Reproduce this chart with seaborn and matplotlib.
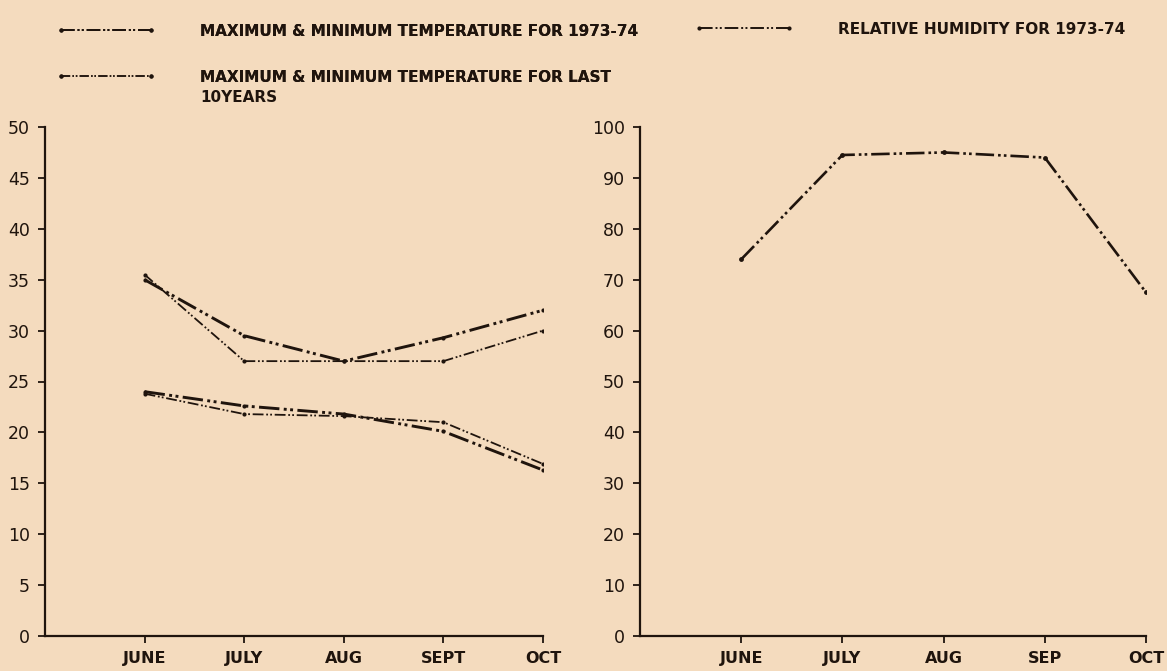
import numpy as np
import pandas as pd
import matplotlib
matplotlib.use("Agg")
import matplotlib.pyplot as plt
import seaborn as sns
from matplotlib.lines import Line2D

# ---- data ----
months_left = ["JUNE", "JULY", "AUG", "SEPT", "OCT"]
months_right = ["JUNE", "JULY", "AUG", "SEP", "OCT"]
max_7374 = [35.0, 29.5, 27.0, 29.3, 32.0]
min_7374 = [24.0, 22.6, 21.8, 20.1, 16.3]
max_10yr = [35.5, 27.0, 27.0, 27.0, 30.0]
min_10yr = [23.8, 21.8, 21.6, 21.0, 16.9]
humidity = [74.0, 94.5, 95.0, 94.0, 67.5]
temp_ticks = [0, 5, 10, 15, 20, 25, 30, 35, 40, 45, 50]
hum_ticks = [0, 10, 20, 30, 40, 50, 60, 70, 80, 90, 100]

BG = "#F4DBBE"
INK = "#1f140d"

sns.set_theme(style="white")
plt.rcParams["font.family"] = ["DejaVu Sans"]

pos = np.arange(1, 6)
rows = []
for name, vals in [("max_7374", max_7374), ("min_7374", min_7374),
                   ("max_10yr", max_10yr), ("min_10yr", min_10yr)]:
    for p, v in zip(pos, vals):
        rows.append({"pos": p, "val": v, "series": name})
df = pd.DataFrame(rows)
dfh = pd.DataFrame({"pos": pos, "val": humidity})

fig = plt.figure(figsize=(11.67, 6.71), dpi=100)
fig.patch.set_facecolor(BG)

axL = fig.add_axes([45 / 1167, 35 / 671, 498 / 1167, 509 / 671])
axR = fig.add_axes([640 / 1167, 35 / 671, 506 / 1167, 509 / 671])

bold_ls = (0, (7, 1.5, 1, 1.2, 1, 1.5))
thin_ls = (0, (6, 1.5, 1, 1.2, 1, 1.5))

styles = {
    "max_7374": dict(lw=2.1, ls=bold_ls),
    "min_7374": dict(lw=2.1, ls=bold_ls),
    "max_10yr": dict(lw=1.3, ls=thin_ls),
    "min_10yr": dict(lw=1.3, ls=thin_ls),
}
for name, st in styles.items():
    sub = df[df["series"] == name]
    sns.lineplot(data=sub, x="pos", y="val", ax=axL, color=INK,
                 linewidth=st["lw"], linestyle=st["ls"], marker="o",
                 markersize=3, markeredgewidth=0, legend=False)

sns.lineplot(data=dfh, x="pos", y="val", ax=axR, color=INK, linewidth=1.9,
             linestyle=bold_ls, marker="o", markersize=3.5,
             markeredgewidth=0, legend=False)

for ax, ticks, labels, ylim in [(axL, temp_ticks, months_left, 50),
                                (axR, hum_ticks, months_right, 100)]:
    ax.set_facecolor(BG)
    ax.set_xlim(0, 5)
    ax.set_ylim(0, ylim)
    ax.set_xticks(pos)
    ax.set_xticklabels(labels, fontsize=11.5, color=INK, fontweight="bold")
    ax.set_yticks(ticks)
    ax.set_yticklabels([str(t) for t in ticks], fontsize=12.5, color=INK)
    ax.set_xlabel("")
    ax.set_ylabel("")
    for s in ["top", "right"]:
        ax.spines[s].set_visible(False)
    for s in ["left", "bottom"]:
        ax.spines[s].set_color(INK)
        ax.spines[s].set_linewidth(1.6)
    ax.tick_params(axis="both", which="both", direction="out", length=5,
                   width=1.3, color=INK, left=True, bottom=True, pad=6)
    ax.grid(False)

# ---- legends ----
def handle(lw, ls):
    return Line2D([0, 1], [0, 0], color=INK, lw=lw, ls=ls, marker="o",
                  markersize=3, markeredgewidth=0)

leg_kw = dict(frameon=False, handlelength=6.5, numpoints=2, handletextpad=2.9,
              prop={"size": 11, "weight": "bold"}, labelcolor=INK,
              borderaxespad=0)
l1 = fig.legend([handle(1.4, bold_ls)],
                ["MAXIMUM & MINIMUM TEMPERATURE FOR 1973-74"],
                loc="center left", bbox_to_anchor=(50 / 1167, 1 - 31 / 671),
                **leg_kw)
l2 = fig.legend([handle(1.1, thin_ls)],
                ["MAXIMUM & MINIMUM TEMPERATURE FOR LAST"],
                loc="center left", bbox_to_anchor=(50 / 1167, 1 - 77 / 671),
                **leg_kw)
l3 = fig.legend([handle(1.4, bold_ls)],
                ["RELATIVE HUMIDITY FOR 1973-74"],
                loc="center left", bbox_to_anchor=(688 / 1167, 1 - 29 / 671),
                **leg_kw)
fig.add_artist(l1)
fig.add_artist(l2)
fig.text(200 / 1167, 1 - 98 / 671, "10YEARS", fontsize=11, fontweight="bold",
         color=INK, ha="left", va="center")

fig.savefig("out.png", dpi=100, facecolor=BG)
